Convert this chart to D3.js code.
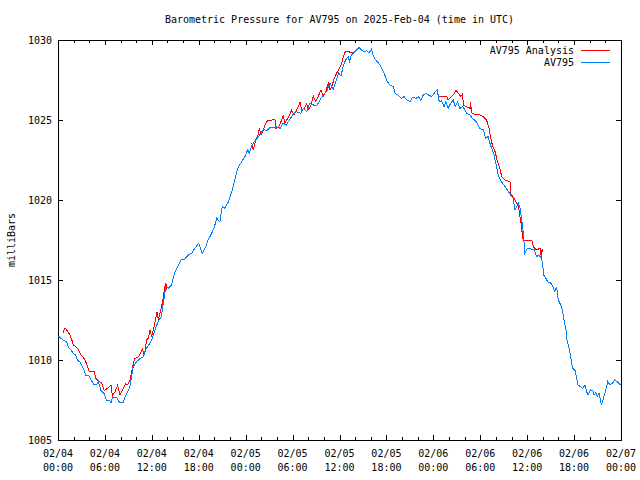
<!DOCTYPE html>
<html>
<head>
<meta charset="utf-8">
<script src="https://cdn.jsdelivr.net/npm/d3@7"></script>
<style>
  html, body { margin: 0; padding: 0; background: #fff; }
  svg { display: block; }
  text { font-family: "DejaVu Sans Mono", "Liberation Mono", monospace; font-size: 10px; fill: #000; }
</style>
</head>
<body>
<script>
// ---- data (hours since 2025-02-04 00:00 UTC, pressure in mbar) ----
const titleText = "Barometric Pressure for AV795 on 2025-Feb-04 (time in UTC)";
const yLabel = "milliBars";
const seriesNames = ["AV795 Analysis", "AV795"];
const seriesColors = ["#ff0000", "#0080ff"];

const xTickHours = [0, 6, 12, 18, 24, 30, 36, 42, 48, 54, 60, 66, 72];
const xTickDates = ["02/04","02/04","02/04","02/04","02/05","02/05","02/05","02/05","02/06","02/06","02/06","02/06","02/07"];
const xTickTimes = ["00:00","06:00","12:00","18:00","00:00","06:00","12:00","18:00","00:00","06:00","12:00","18:00","00:00"];
const yTicks = [1005, 1010, 1015, 1020, 1025, 1030];

const blueHours = [0,0.68,1.1,1.3,1.66,1.96,2.26,2.5,2.8,3.24,3.54,3.88,4.2,4.65,4.95,5.16,5.5,5.93,6.2,6.65,6.78,6.95,7.5,7.85,8.35,8.57,8.9,9.2,9.42,9.63,10.06,10.5,10.9,11.2,11.6,12.0,12.4,12.8,13.2,13.5,13.8,14.1,14.5,14.9,15.4,15.8,16.2,16.66,17.1,17.5,18.0,18.45,18.8,19.2,19.65,20.0,20.3,20.7,21.0,21.35,21.8,22.1,22.4,22.7,23.06,23.5,23.9,24.26,24.46,24.77,25.1,25.4,25.8,26.25,26.7,27.1,27.5,27.96,28.4,28.8,29.2,29.6,30.1,30.5,31.07,31.4,31.8,32.2,32.65,33.08,33.5,33.9,34.35,34.8,35.2,35.6,35.9,36.2,36.5,36.8,37.1,37.3,37.5,37.85,38.2,38.5,38.8,39.1,39.5,39.8,40.1,40.3,40.5,40.8,41.2,41.5,41.8,42.1,42.45,42.9,43.1,43.5,43.95,44.25,44.6,45.0,45.36,45.8,46.1,46.4,46.7,47.1,47.4,47.8,48.1,48.5,48.75,49.05,49.36,49.6,49.9,50.2,50.55,50.8,51.1,51.4,51.75,52.05,52.3,52.7,53.0,53.5,53.9,54.4,54.7,55.0,55.3,55.7,56.0,56.3,56.7,57.2,57.6,57.9,58.2,58.45,58.9,59.1,59.3,59.5,59.7,60.03,60.45,60.9,61.2,61.5,61.85,62.0,62.1,62.4,62.7,63.0,63.27,63.55,63.77,63.98,64.3,64.5,64.7,64.96,65.1,65.4,65.6,65.8,66.1,66.3,66.5,66.8,67.1,67.4,67.6,67.8,68.1,68.4,68.55,68.8,68.97,69.2,69.5,69.75,70.0,70.3,70.6,70.95,71.2,71.5,71.8,72.0];
const bluePressure = [1011.5,1011.25,1011.15,1010.83,1010.63,1010.42,1010.3,1009.96,1009.9,1009.48,1009.06,1009.06,1008.75,1008.44,1008.44,1008.65,1008.1,1007.87,1007.5,1007.46,1007.3,1007.67,1007.67,1007.37,1007.37,1007.7,1008.02,1008.33,1008.96,1009.58,1009.9,1010.1,1010.2,1010.63,1010.94,1011.25,1011.88,1012.4,1012.7,1013.65,1014.58,1014.48,1014.69,1015.42,1015.94,1016.3,1016.3,1016.56,1016.67,1016.98,1017.3,1016.67,1016.98,1017.5,1017.92,1018.33,1018.85,1018.65,1019.58,1019.48,1019.9,1020.31,1020.83,1021.46,1022.08,1022.4,1022.7,1023.13,1022.92,1023.38,1023.65,1023.8,1024.06,1024.42,1024.33,1024.52,1024.52,1024.58,1024.48,1024.8,1024.69,1025.0,1025.38,1025.52,1025.42,1025.73,1025.52,1026.04,1025.94,1025.88,1026.25,1026.56,1026.77,1027.29,1026.92,1027.5,1027.92,1027.75,1028.44,1028.75,1028.96,1028.65,1029.06,1029.2,1029.38,1029.54,1029.38,1029.27,1029.33,1029.2,1029.42,1029.06,1028.85,1028.65,1028.44,1028.13,1027.81,1027.4,1027.19,1027.08,1026.67,1026.56,1026.35,1026.46,1026.25,1026.15,1026.42,1026.35,1026.46,1026.21,1026.56,1026.67,1026.56,1026.46,1026.67,1026.88,1026.15,1026.21,1025.83,1026.15,1025.73,1026.04,1026.25,1025.83,1026.15,1025.73,1025.83,1025.63,1025.42,1025.31,1025.1,1024.9,1024.48,1024.38,1023.85,1023.96,1023.44,1022.92,1022.29,1021.56,1021.15,1020.83,1020.52,1020.31,1020.1,1019.38,1019.8,1019.48,1018.75,1018.02,1016.67,1016.98,1016.94,1016.88,1016.46,1016.56,1016.35,1015.9,1015.31,1015.1,1014.83,1014.83,1014.58,1014.27,1014.58,1013.75,1013.44,1013.13,1012.5,1011.88,1011.25,1010.63,1010.1,1009.48,1009.38,1008.96,1008.44,1008.33,1008.23,1008.44,1008.02,1007.81,1008.13,1008.08,1007.81,1007.96,1007.71,1007.92,1007.19,1007.6,1008.02,1008.65,1008.44,1008.58,1008.75,1008.65,1008.5,1008.5];

// null values mark gaps in the analysis series
const redHours = [0.68,0.8,0.98,1.24,1.53,1.75,1.96,2.26,2.6,2.94,3.24,3.54,3.8,3.96,4.65,4.82,5.24,5.58,5.8,5.9,6.35,6.78,6.95,7.29,7.63,7.93,8.35,8.66,8.9,9.2,9.63,9.85,10.27,10.6,10.8,11.04,11.34,11.55,11.76,11.98,12.3,12.53,12.66,12.83,13.04,13.34,13.6,13.78,13.94,14.0,
  24.77,24.97,25.28,25.6,25.74,25.96,26.25,26.56,26.9,27.32,27.75,27.84,28.17,28.52,28.8,29.03,29.37,29.67,29.88,30.2,30.5,30.82,30.95,31.16,31.5,31.8,32.0,32.35,32.65,32.96,33.3,33.63,33.93,34.24,34.57,34.8,35.0,35.33,35.63,35.93,36.27,36.6,36.8,37.25,37.3,37.98,38.0,
  48.5,48.76,49.27,49.7,49.9,50.2,50.55,50.9,51.2,51.5,51.75,51.83,52.26,52.7,52.75,52.9,53.3,54.0,54.4,54.8,55.15,55.3,55.6,55.9,56.2,56.5,56.75,57.2,57.8,57.9,58.2,58.65,58.85,59.0,59.27,59.4,59.53,59.96,60.6,60.8,61.2,61.65,61.8,61.9,62.0];
const redPressure = [1011.67,1011.92,1011.98,1011.77,1011.56,1011.29,1010.94,1010.83,1010.67,1010.31,1010.17,1009.9,1009.58,1009.31,1009.31,1008.85,1008.65,1008.58,1008.23,1008.08,1008.23,1008.42,1007.75,1008.02,1008.42,1007.81,1008.23,1008.5,1008.44,1008.75,1009.79,1010.1,1010.2,1010.46,1010.67,1010.31,1011.25,1011.35,1011.88,1011.46,1012.13,1012.67,1013.02,1012.5,1012.92,1013.54,1014.38,1014.83,1014.38,null,
  1023.58,1023.13,1023.75,1024.06,1024.48,1024.06,1024.38,1024.8,1025.0,1025.0,1025.04,1024.48,1024.54,1024.9,1025.25,1024.8,1025.1,1025.38,1025.63,1025.31,1025.63,1025.94,1026.15,1025.63,1025.73,1026.04,1025.63,1025.94,1026.5,1026.15,1026.5,1026.88,1026.46,1026.77,1027.29,1026.88,1027.08,1027.6,1027.92,1028.17,1028.54,1029.13,1029.31,1029.31,1029.23,1029.23,null,
  1026.67,1026.46,1026.46,1026.5,1026.25,1026.42,1026.56,1026.88,1026.67,1026.46,1026.63,1025.94,1025.83,1025.73,1026.1,1025.46,1025.35,1025.31,1025.2,1025.0,1024.48,1023.96,1023.33,1023.02,1022.4,1021.98,1021.46,1021.25,1021.15,1020.42,1020.2,1019.8,1019.8,1019.17,1018.44,1017.7,1017.44,1017.44,1017.5,1017.08,1016.88,1016.98,1016.46,1016.9,1016.75];

// ---- drawing ----
const W = 640, H = 480;
const m = { left: 58, right: 621, top: 40, bottom: 440 };

const svg = d3.select("body").append("svg").attr("width", W).attr("height", H);

const x = d3.scaleLinear().domain([0, 72]).range([m.left, m.right]);
const y = d3.scaleLinear().domain([1005, 1030]).range([m.bottom, m.top]);

// title
svg.append("text").attr("x", (m.left + m.right) / 2).attr("y", 23)
  .attr("text-anchor", "middle").text(titleText);

// y label
svg.append("text").attr("transform", `translate(15,${(m.top + m.bottom) / 2}) rotate(-90)`)
  .attr("text-anchor", "middle").text(yLabel);

const g = svg.append("g").attr("shape-rendering", "crispEdges");

// axes with inward ticks (gnuplot style, mirrored)
const minorHours = d3.range(0, 73, 2).filter(h => h % 6 !== 0);
const xBottomMajor = d3.axisBottom(x).tickValues(xTickHours).tickSize(-5).tickFormat("");
const xBottomMinor = d3.axisBottom(x).tickValues(minorHours).tickSize(-3).tickFormat("");
const xTopMajor = d3.axisTop(x).tickValues(xTickHours).tickSize(-5).tickFormat("");
const xTopMinor = d3.axisTop(x).tickValues(minorHours).tickSize(-3).tickFormat("");
const yLeft = d3.axisLeft(y).tickValues(yTicks).tickSize(-5).tickFormat("");
const yRight = d3.axisRight(y).tickValues(yTicks).tickSize(-5).tickFormat("");

function styleAxis(sel) {
  sel.select(".domain").remove();
  sel.selectAll(".tick line").attr("stroke", "#000");
}
g.append("g").attr("transform", `translate(0,${m.bottom})`).call(xBottomMajor).call(styleAxis);
g.append("g").attr("transform", `translate(0,${m.bottom})`).call(xBottomMinor).call(styleAxis);
g.append("g").attr("transform", `translate(0,${m.top})`).call(xTopMajor).call(styleAxis);
g.append("g").attr("transform", `translate(0,${m.top})`).call(xTopMinor).call(styleAxis);
g.append("g").attr("transform", `translate(${m.left},0)`).call(yLeft).call(styleAxis);
g.append("g").attr("transform", `translate(${m.right},0)`).call(yRight).call(styleAxis);

// y tick labels
svg.append("g").selectAll("text").data(yTicks).join("text")
  .attr("x", m.left - 6).attr("y", d => y(d)).attr("dy", "0.35em")
  .attr("text-anchor", "end").text(d => d);

// x tick labels (two lines)
const xl = svg.append("g").selectAll("g").data(xTickHours).join("g")
  .attr("transform", d => `translate(${x(d)},0)`);
xl.append("text").attr("y", 457).attr("text-anchor", "middle").text((d, i) => xTickDates[i]);
xl.append("text").attr("y", 471).attr("text-anchor", "middle").text((d, i) => xTickTimes[i]);

// series
const redData = redHours.map((h, i) => ({ h, v: redPressure[i] }));
const blueData = blueHours.map((h, i) => ({ h, v: bluePressure[i] }));
const line = d3.line().defined(d => d.v !== null).x(d => x(d.h)).y(d => y(d.v));

const plot = svg.append("g").attr("shape-rendering", "crispEdges");
plot.append("path").datum(redData).attr("d", line)
  .attr("fill", "none").attr("stroke", seriesColors[0]).attr("stroke-width", 1);
plot.append("path").datum(blueData).attr("d", line)
  .attr("fill", "none").attr("stroke", seriesColors[1]).attr("stroke-width", 1);

// border
g.append("rect").attr("x", m.left + 0.5).attr("y", m.top + 0.5)
  .attr("width", m.right - m.left).attr("height", m.bottom - m.top)
  .attr("fill", "none").attr("stroke", "#000");

// legend
const leg = svg.append("g").selectAll("g").data(seriesNames).join("g")
  .attr("transform", (d, i) => `translate(0,${50 + i * 12})`);
leg.append("text").attr("x", 574).attr("dy", "0.35em").attr("text-anchor", "end").text(d => d);
leg.append("line").attr("x1", 581).attr("x2", 610).attr("y1", 0.5).attr("y2", 0.5)
  .attr("stroke", (d, i) => seriesColors[i]).attr("shape-rendering", "crispEdges");
</script>
</body>
</html>
